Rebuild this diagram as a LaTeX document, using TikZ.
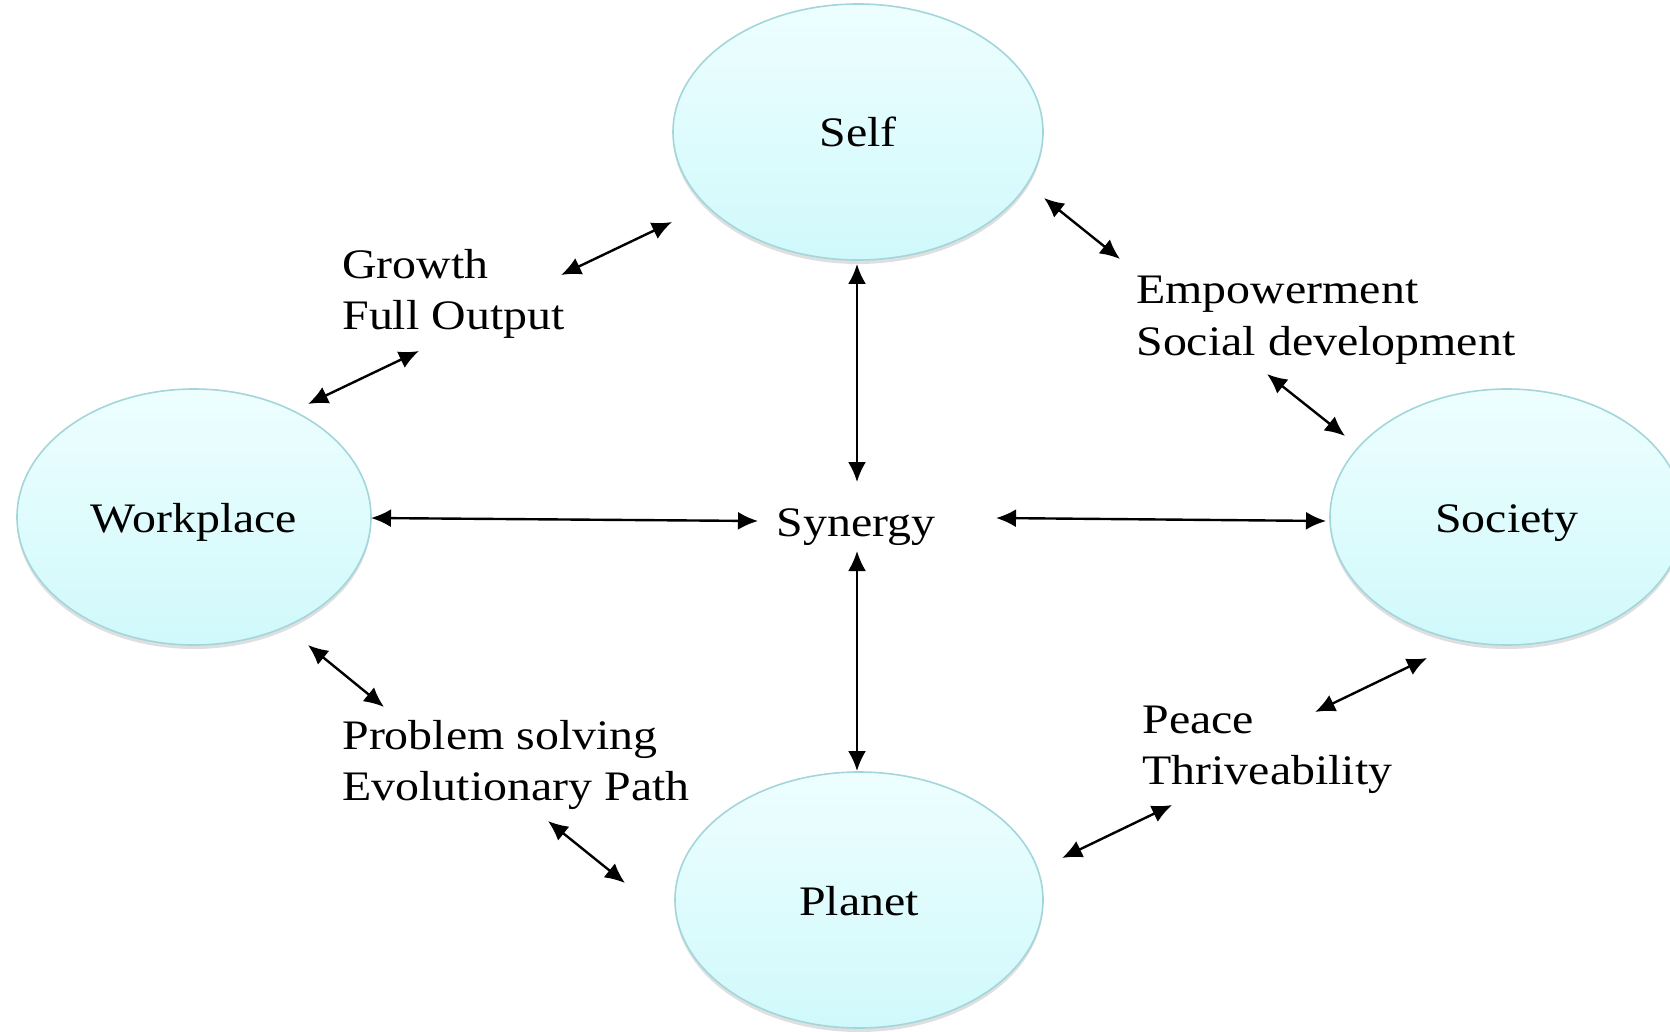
\documentclass[tikz,border=0pt]{standalone}
\usepackage{fontspec}
\setmainfont{Liberation Serif}[FakeStretch=1.14]
\usetikzlibrary{arrows.meta,shapes.geometric,shadows}
\definecolor{ellTop}{HTML}{EEFEFF}
\definecolor{ellBot}{HTML}{D0F9FB}
\definecolor{ellLine}{HTML}{A3D6DA}
\tikzset{
  bubble/.style={ellipse, draw=ellLine, line width=0.8pt, top color=ellTop, bottom color=ellBot,
    inner sep=0pt, minimum height=128pt, text height=15pt, text depth=0pt,
    drop shadow={shadow xshift=0pt, shadow yshift=-2pt, opacity=0.18, fill=black!70},
    font=\fontsize{21}{25.5}\selectfont},
  lbl/.style={anchor=base west, inner sep=0pt, align=left, font=\fontsize{21}{25.5}\selectfont},
  link/.style={{Latex[length=10pt,width=9pt]}-{Latex[length=10pt,width=9pt]}, line width=1.2pt, black}
}
\begin{document}
\begin{tikzpicture}[x=0.5pt,y=-0.5pt]
\useasboundingbox (0,0) rectangle (1670,1032);
% nodes
\node[bubble, minimum width=185pt] (self) at (858,132) {Self};
\node[bubble, minimum width=177pt] (work) at (194,517) {Workplace};
\node[bubble, minimum width=177pt] (soc) at (1507,517) {Society};
\node[bubble, minimum width=184pt] (planet) at (859,900) {Planet};
\node[anchor=base, inner sep=0pt, font=\fontsize{21}{25.5}\selectfont] (syn) at (856,536) {Synergy};
\node[lbl] (growth) at (342,329) {Growth\\Full Output};
\node[lbl] (emp) at (1136,355) {Empowerment\\Social development};
\node[lbl] (prob) at (342,800) {Problem solving\\Evolutionary Path};
\node[lbl] (peace) at (1142,784) {Peace\\Thriveability};
% arrow end points
\coordinate (sS) at (857,264);  \coordinate (synN) at (857,482);
\coordinate (synS) at (857,551); \coordinate (pN) at (857,771);
\coordinate (wE) at (371,518);  \coordinate (synW) at (758,521);
\coordinate (synE) at (996,518); \coordinate (socW) at (1326,521);
\coordinate (sWl) at (672,222); \coordinate (gR) at (561,275);
\coordinate (gL) at (419,351);  \coordinate (wNE) at (308,404);
\coordinate (sSE) at (1044,198); \coordinate (eT) at (1120,259);
\coordinate (eB) at (1267,374); \coordinate (socNW) at (1345,436);
\coordinate (wSE) at (308,645); \coordinate (prT) at (384,707);
\coordinate (prB) at (548,821); \coordinate (pNW) at (625,883);
\coordinate (socSW) at (1427,658); \coordinate (peT) at (1315,712);
\coordinate (peB) at (1172,805); \coordinate (pNE) at (1062,858);
% connectors
\draw[link] (sS) -- (synN);
\draw[link] (synS) -- (pN);
\draw[link] (wE) -- (synW);
\draw[link] (synE) -- (socW);
\draw[link] (sWl) -- (gR);
\draw[link] (gL) -- (wNE);
\draw[link] (sSE) -- (eT);
\draw[link] (eB) -- (socNW);
\draw[link] (wSE) -- (prT);
\draw[link] (prB) -- (pNW);
\draw[link] (socSW) -- (peT);
\draw[link] (peB) -- (pNE);
\end{tikzpicture}
\end{document}
